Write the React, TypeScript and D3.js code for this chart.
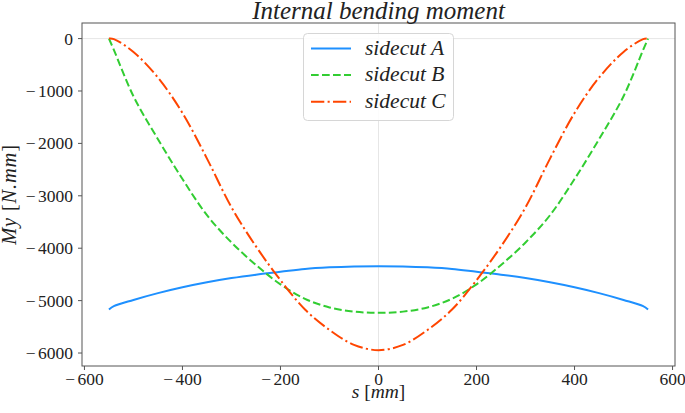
import React from "react";
import * as d3 from "d3";

const sValues = [-550, -540, -500, -450, -400, -350, -300, -250, -200, -150, -100, -50, 0, 50, 100, 150, 200, 250, 300, 350, 400, 450, 500, 540, 550];
const sidecutA = [-5168, -5105, -4987, -4857, -4745, -4650, -4570, -4505, -4450, -4395, -4365, -4348, -4342, -4348, -4365, -4395, -4450, -4505, -4570, -4650, -4745, -4857, -4987, -5105, -5168];
const sidecutB = [0, -215, -1100, -1920, -2680, -3370, -3890, -4320, -4690, -4965, -5130, -5210, -5233, -5210, -5130, -4965, -4690, -4320, -3890, -3370, -2680, -1920, -1100, -215, 0];
const sidecutC = [0, -10, -255, -745, -1420, -2290, -3220, -3965, -4610, -5170, -5560, -5845, -5945, -5845, -5560, -5170, -4610, -3965, -3220, -2290, -1420, -745, -255, -10, 0];
const xTicks = [-600, -400, -200, 0, 200, 400, 600];
const yTicks = [0, -1000, -2000, -3000, -4000, -5000, -6000];
const seriesNames = ["sidecut A", "sidecut B", "sidecut C"];
const seriesColors = ["#1e90ff", "#32cd32", "#ff4500"];
const seriesDash = ["none", "7.7,3.3", "13.3,3.3,2.1,3.3"];

function TickLabel({ v }: { v: number }) {
  if (v < 0) {
    return (
      <>
        {"\u2212"}
        <tspan dx={2.5}>{String(Math.abs(v))}</tspan>
      </>
    );
  }
  return <>{String(v)}</>;
}

export default function App() {
  const W = 685, H = 413;
  const left = 82, right = 675, top = 23, bottom = 366;
  const x = d3.scaleLinear().domain([-605, 605]).range([left, right]);
  const y = d3.scaleLinear().domain([-6247.5, 297.5]).range([bottom, top]);
  const series = [sidecutA, sidecutB, sidecutC];
  const line = d3
    .line<number>()
    .x((_, i) => x(sValues[i]))
    .y((d) => y(d))
    .curve(d3.curveCatmullRom.alpha(0.5));
  const font = "'Liberation Serif', 'DejaVu Serif', serif";
  return (
    <svg
      width={W}
      height={H}
      style={{ position: "absolute", left: 0, top: 0, display: "block", background: "#fff" }}
      fontFamily={font}
    >
      <line x1={left} x2={right} y1={y(0)} y2={y(0)} stroke="#e6e6e6" strokeWidth={1} />
      <line x1={x(0)} x2={x(0)} y1={top} y2={bottom} stroke="#e6e6e6" strokeWidth={1} />
      {series.map((d, i) => (
        <path
          key={i}
          d={line(d) || ""}
          fill="none"
          stroke={seriesColors[i]}
          strokeWidth={2}
          strokeDasharray={seriesDash[i]}
        />
      ))}
      <rect x={left} y={top} width={right - left} height={bottom - top} fill="none" stroke="#555" strokeWidth={1} />
      {xTicks.map((t) => (
        <g key={t}>
          <line x1={x(t)} x2={x(t)} y1={bottom} y2={bottom + 4} stroke="#555" />
          <text x={x(t)} y={bottom + 19} textAnchor="middle" fontSize={17.5} fill="#222">
            <TickLabel v={t} />
          </text>
        </g>
      ))}
      {yTicks.map((t) => (
        <g key={t}>
          <line x1={left - 4} x2={left} y1={y(t)} y2={y(t)} stroke="#555" />
          <text x={left - 9} y={y(t) + 6} textAnchor="end" fontSize={17.5} fill="#222">
            <TickLabel v={t} />
          </text>
        </g>
      ))}
      <text x={(left + right) / 2} y={18.5} textAnchor="middle" fontSize={25} fontStyle="italic" fill="#222">
        Internal bending moment
      </text>
      <text x={(left + right) / 2} y={398} textAnchor="middle" fontSize={19.5} fill="#222">
        <tspan fontStyle="italic">s</tspan> [<tspan fontStyle="italic">mm</tspan>]
      </text>
      <text
        transform={`translate(16, ${(top + bottom) / 2}) rotate(-90)`}
        textAnchor="middle"
        fontSize={20.5}
        letterSpacing={0.8}
        fill="#222"
      >
        <tspan fontStyle="italic">My</tspan> [<tspan fontStyle="italic">N.mm</tspan>]
      </text>
      <rect x={303.5} y={33.5} width={150} height={87} rx={4} fill="#fff" fillOpacity={0.85} stroke="#d6d6d6" strokeWidth={1} />
      {seriesNames.map((n, i) => {
        const ly = 48.5 + i * 26.6;
        return (
          <g key={n}>
            <line x1={311} x2={351} y1={ly} y2={ly} stroke={seriesColors[i]} strokeWidth={2} strokeDasharray={seriesDash[i]} />
            <text x={365} y={ly + 6} fontSize={21.5} fontStyle="italic" fill="#222">
              {n}
            </text>
          </g>
        );
      })}
    </svg>
  );
}
